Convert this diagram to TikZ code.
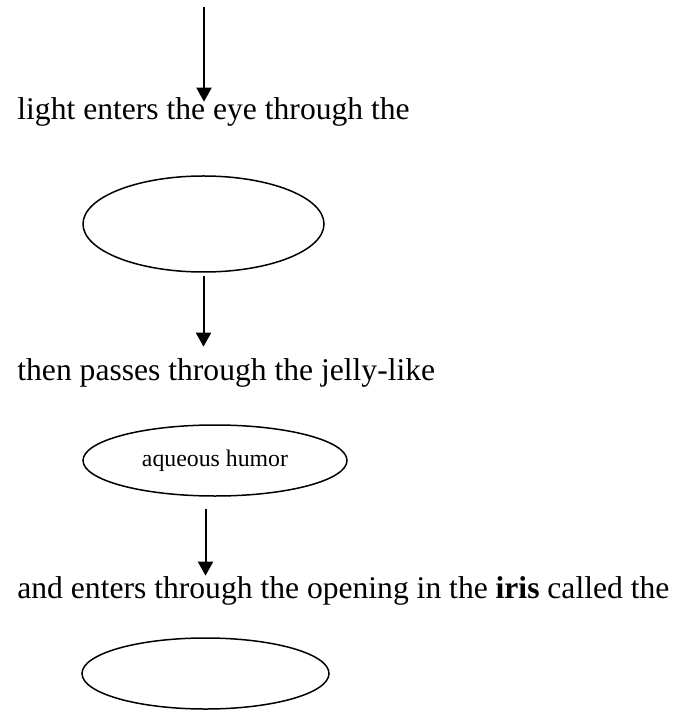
\documentclass[tikz,border=0pt]{standalone}
\usepackage{fontspec}
\setmainfont{Liberation Serif}
\usetikzlibrary{arrows.meta}
\usetikzlibrary{shapes.geometric}

\begin{document}
\begin{tikzpicture}[x=0.5pt, y=-0.5pt,
				   every node/.style={inner sep=0pt},
				   sentence/.style={anchor=base west, font=\fontsize{15.8}{19}\selectfont},
				   blank/.style={ellipse, draw, line width=0.75pt},
				   flow/.style={-{Triangle[width=7.5pt,length=7pt]}, line width=1pt}]
\useasboundingbox (0,0) rectangle (676,710);
\node[sentence] (enter) at (17,120) {light enters the eye through the};
\node[blank, minimum width=120.5pt, minimum height=48pt] (oval1) at (203.5,224) {};
\node[sentence] (passes) at (17,380) {then passes through the jelly-like};
\node[blank, minimum width=132pt, minimum height=35.5pt,
	font=\fontsize{11.9}{14}\selectfont] (humor) at (215,460.5) {aqueous humor};
\node[sentence] (opening) at (17,598) {and enters through the opening in the \textbf{iris} called the};
\node[blank, minimum width=123.5pt, minimum height=35.5pt] (oval3) at (205.5,673.5) {};
\coordinate (top) at (204,7);
\draw[flow, shorten >=-2pt] (top) -- (top |- enter.north);
\draw[flow, shorten <=1.5pt, shorten >=5.5pt] (oval1.south) -- (oval1 |- passes.north);
\draw[flow, shorten <=6pt] (humor.south -| oval3) -- (oval3 |- opening.north);
\end{tikzpicture}
\end{document}
